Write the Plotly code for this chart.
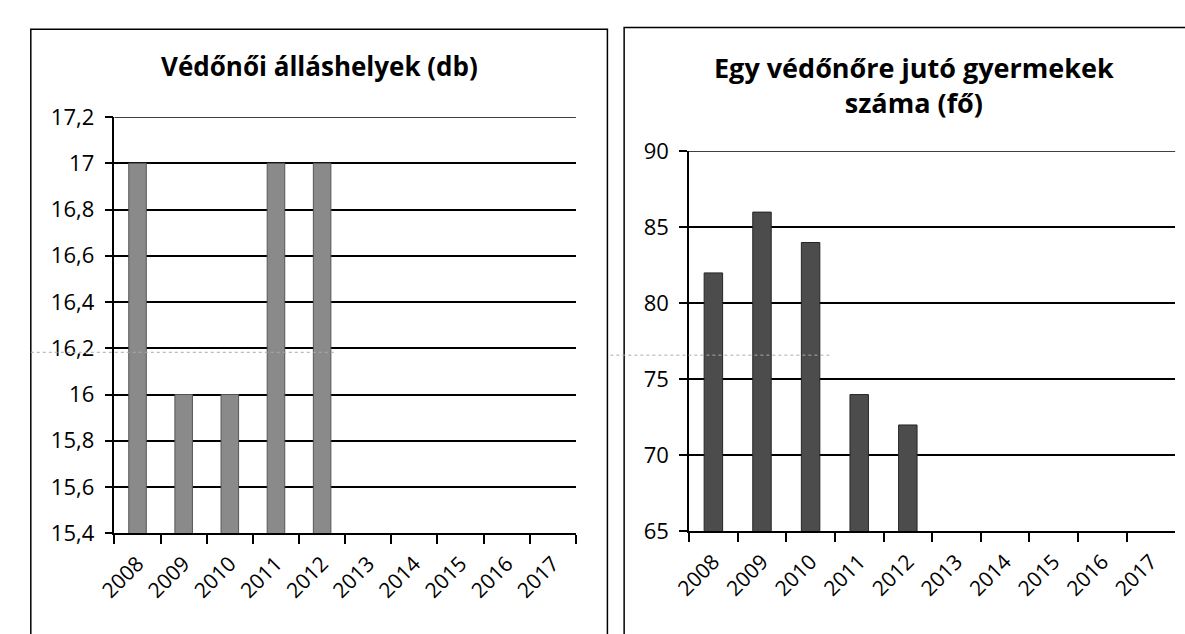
import plotly.graph_objects as go

years = ["2008", "2009", "2010", "2011", "2012", "2013", "2014", "2015", "2016", "2017"]
posts = [17, 16, 16, 17, 17, None, None, None, None, None]
children = [82, 86, 84, 74, 72, None, None, None, None, None]

left_ticks = [15.4, 15.6, 15.8, 16.0, 16.2, 16.4, 16.6, 16.8, 17.0, 17.2]
left_labels = ["15,4", "15,6", "15,8", "16", "16,2", "16,4", "16,6", "16,8", "17", "17,2"]
right_ticks = [65, 70, 75, 80, 85, 90]
right_labels = ["65", "70", "75", "80", "85", "90"]

title_left = "Védőnői álláshelyek (db)"
title_right = "Egy védőnőre jutó gyermekek<br>száma (fő)"

W, H = 1185, 634
FONT = "Open Sans"

def px(x):
    return x / W

def py(y):
    return (H - y) / H

fig = go.Figure()
fig.add_trace(go.Bar(x=years, y=posts, xaxis="x", yaxis="y",
                     marker=dict(color="#8a8a8a", line=dict(color="#555555", width=1))))
fig.add_trace(go.Bar(x=years, y=children, xaxis="x2", yaxis="y2",
                     marker=dict(color="#4c4c4c", line=dict(color="#262626", width=1))))

common_x = dict(type="category", showline=True, linecolor="black", linewidth=1.5,
                ticks="outside", tickson="boundaries", ticklen=9, tickcolor="black",
                tickwidth=1.5, tickangle=-45, showgrid=False, ticklabelstandoff=8,
                tickfont=dict(family=FONT, size=21, color="black"))
common_y = dict(showline=True, linecolor="black", linewidth=1.5, ticks="outside",
                ticklen=8, tickcolor="black", tickwidth=1.5, showgrid=True,
                gridcolor="black", gridwidth=1.5, zeroline=False, ticklabelstandoff=6,
                tickfont=dict(family=FONT, size=22, color="black"))

fig.update_layout(
    width=W, height=H, margin=dict(l=0, r=0, t=0, b=0),
    paper_bgcolor="white", plot_bgcolor="white", showlegend=False,
    bargap=0.62,
    xaxis=dict(domain=[px(97), px(566)], anchor="y", **common_x),
    yaxis=dict(domain=[py(543), py(106)], anchor="x", range=[left_ticks[0], left_ticks[-1]],
               tickvals=left_ticks, ticktext=left_labels, **common_y),
    xaxis2=dict(domain=[px(681), px(1175)], anchor="y2", **common_x),
    yaxis2=dict(domain=[py(541), py(142)], anchor="x2", range=[right_ticks[0], right_ticks[-1]],
                tickvals=right_ticks, ticktext=right_labels, **common_y),
    shapes=[
        dict(type="rect", xref="paper", yref="paper", x0=px(12), x1=px(598),
             y0=-0.05, y1=py(14), line=dict(color="black", width=1.5)),
        dict(type="rect", xref="paper", yref="paper", x0=px(615), x1=1.05,
             y0=-0.05, y1=py(12), line=dict(color="black", width=1.5)),
        dict(type="line", xref="x domain", yref="y", x0=0, x1=1,
             y0=left_ticks[-1], y1=left_ticks[-1], line=dict(color="black", width=1.5)),
        dict(type="line", xref="x2 domain", yref="y2", x0=0, x1=1,
             y0=right_ticks[-1], y1=right_ticks[-1], line=dict(color="black", width=1.5)),
        dict(type="line", xref="paper", yref="paper", x0=px(12), x1=px(323),
             y0=py(353), y1=py(353), line=dict(color="#aaaaaa", width=1, dash="dot")),
        dict(type="line", xref="paper", yref="paper", x0=px(601), x1=px(825),
             y0=py(356), y1=py(356), line=dict(color="#aaaaaa", width=1, dash="dot")),
    ],
    annotations=[
        dict(text=title_left, xref="paper", yref="paper", x=px(305), y=py(52),
             showarrow=False, xanchor="center", yanchor="middle",
             font=dict(family=FONT, size=26, color="black", weight="bold")),
        dict(text=title_right, xref="paper", yref="paper", x=px(910), y=py(72),
             showarrow=False, xanchor="center", yanchor="middle",
             font=dict(family=FONT, size=27, color="black", weight="bold")),
    ],
)

fig.write_html("out.html", config={"displayModeBar": False},
               post_script="document.body.style.margin='0';document.body.style.overflow='hidden';")
